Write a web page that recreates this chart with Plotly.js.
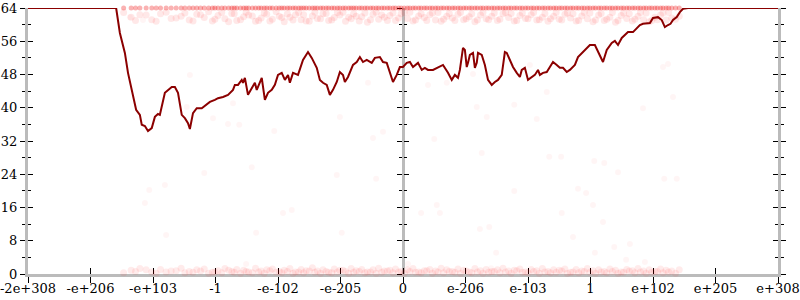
<!DOCTYPE html>
<html><head><meta charset="utf-8">
<script src="https://cdn.plot.ly/plotly-3.0.1.min.js"></script>
<style>html,body{margin:0;padding:0;background:#fff}#chart{width:800px;height:300px}</style>
</head><body><div id="chart"></div>
<script>
const tickVals = [-6,-5,-4,-3,-2,-1,0,1,2,3,4,5,6];
const tickText = ['-2e+308','-e+206','-e+103','-1','-e-102','-e-205','0','e-206','e-103','1','e+102','e+205','e+308'];
const yTicks = [0,8,16,24,32,40,48,56,64];
const yMinor = [4,12,20,28,36,44,52,60];

const lineX = [-6,-4.59,-4.53,-4.45,-4.40,-4.34,-4.30,-4.27,-4.21,-4.18,-4.13,-4.08,-4.02,-3.97,-3.92,-3.89,-3.81,-3.76,-3.70,-3.65,-3.60,-3.54,-3.49,-3.44,-3.41,-3.36,-3.30,-3.22,-3.14,-3.09,-3.01,-2.96,-2.88,-2.80,-2.72,-2.69,-2.64,-2.58,-2.56,-2.53,-2.48,-2.42,-2.37,-2.34,-2.29,-2.26,-2.21,-2.16,-2.10,-2.05,-2.00,-1.94,-1.89,-1.84,-1.81,-1.76,-1.68,-1.60,-1.52,-1.46,-1.38,-1.33,-1.28,-1.22,-1.17,-1.12,-1.06,-1.01,-0.96,-0.93,-0.88,-0.80,-0.74,-0.69,-0.64,-0.58,-0.50,-0.45,-0.37,-0.32,-0.26,-0.21,-0.16,-0.10,-0.05,0,0.06,0.11,0.16,0.24,0.30,0.35,0.40,0.48,0.56,0.64,0.72,0.78,0.83,0.88,0.91,0.94,0.96,0.99,1.02,1.04,1.07,1.12,1.15,1.18,1.20,1.26,1.31,1.36,1.42,1.47,1.52,1.58,1.63,1.66,1.71,1.76,1.82,1.87,1.90,1.95,2.00,2.06,2.11,2.16,2.19,2.24,2.30,2.35,2.40,2.46,2.51,2.56,2.62,2.67,2.75,2.80,2.86,2.94,2.99,3.07,3.12,3.18,3.20,3.26,3.34,3.39,3.44,3.50,3.55,3.60,3.68,3.74,3.79,3.84,3.90,3.95,4.00,4.08,4.14,4.19,4.24,4.28,4.32,4.38,4.43,4.48,4.56,6];
const lineY = [64,64,58.0,53.2,48.4,44.3,41.9,39.5,38.3,35.9,35.6,34.4,35.1,37.8,38.5,38.3,43.6,44.3,45.0,45.0,43.6,38.3,37.5,36.3,34.9,38.7,39.9,39.9,40.7,41.4,41.9,42.3,42.6,43.1,44.3,45.5,45.5,46.7,46.0,47.2,43.1,44.8,46.0,44.3,46.0,47.2,41.9,43.6,44.3,45.5,47.9,48.4,46.7,47.9,46.0,48.4,47.9,51.5,53.4,52.0,49.6,46.7,46.0,45.5,43.1,44.3,46.2,48.6,47.9,46.2,47.4,50.3,51.0,52.2,51.0,51.5,50.8,52.0,52.2,51.0,50.8,48.6,46.2,47.9,49.8,49.8,50.8,51.0,49.8,50.8,49.1,49.6,49.1,49.1,49.8,50.3,48.4,46.7,47.9,47.2,49.1,52.2,54.4,53.9,49.8,50.8,52.7,53.2,49.6,50.8,53.2,52.7,50.3,46.7,45.5,46.2,46.7,47.9,53.4,53.2,51.5,49.8,48.4,47.4,49.1,49.6,46.7,47.4,47.9,49.1,47.9,48.4,48.6,49.8,51.0,50.3,49.6,49.6,48.6,49.1,50.3,52.2,53.2,54.4,55.1,55.1,53.4,51.5,51.0,53.9,55.6,56.1,55.1,56.8,57.5,58.2,58.2,59.2,59.9,60.2,60.4,60.4,61.6,61.8,61.1,59.4,59.9,60.2,61.1,61.8,63.0,63.8,64,64];

const bandX = [-4.35,-4.21,-4.02,-3.88,-3.71,-3.55,-3.42,-3.30,-3.18,-3.05,-2.96,-2.85,-2.74,-2.66,-2.55,-2.47,-2.36,-2.27,-2.18,-2.09,-1.98,-1.90,-1.81,-1.72,-1.63,-1.55,-1.45,-1.37,-1.28,-1.19,-1.10,-1.01,-0.92,-0.83,-0.75,-0.66,-0.57,-0.48,-0.39,-0.30,-0.21,-0.12,-0.03,0.07,0.16,0.25,0.34,0.43,0.52,0.61,0.70,0.79,0.88,0.97,1.06,1.15,1.24,1.33,1.42,1.51,1.60,1.69,1.78,1.87,1.96,2.05,2.14,2.23,2.32,2.41,2.50,2.59,2.68,2.77,2.86,2.95,3.04,3.13,3.22,3.31,3.40,3.49,3.58,3.67,3.76,3.85,3.94,4.03,4.12,4.21,4.30,4.42];
const bandX2 = [-4.47,-4.28,-4.11,-3.95,-3.79,-3.63,-3.49,-3.36,-3.24,-3.11,-3.01,-2.90,-2.79,-2.70,-2.60,-2.51,-2.41,-2.31,-2.22,-2.13,-2.03,-1.94,-1.85,-1.76,-1.67,-1.59,-1.50,-1.41,-1.32,-1.23,-1.14,-1.05,-0.96,-0.87,-0.79,-0.70,-0.61,-0.52,-0.43,-0.34,-0.25,-0.16,-0.07,0.02,0.11,0.20,0.29,0.38,0.47,0.56,0.65,0.74,0.83,0.92,1.01,1.10,1.19,1.28,1.37,1.46,1.55,1.64,1.73,1.82,1.91,2.00,2.09,2.18,2.27,2.36,2.45,2.54,2.63,2.72,2.81,2.90,2.99,3.08,3.17,3.26,3.35,3.44,3.53,3.62,3.71,3.80,3.89,3.98,4.07,4.16,4.25,4.36];
const topRowY = [64,64,64,64,64,64,64,64,64,64,64,64,64,64,64,64,64,64,64,64,64,64,64,64,64,64,64,64,64,64,64,64,64,64,64,64,64,64,64,64,64,64,64,64,64,64,64,64,64,64,64,64,64,64,64,64,64,64,64,64,64,64,64,64,64,64,64,64,64,64,64,64,64,64,64,64,64,64,64,64,64,64,64,64,64,64,64,64,64,64,64,64];
const midBandY = [61.8,62.4,61.2,62.6,61.5,62.0,61.1,62.5,61.7,60.9,62.2,61.4,62.7,61.0,61.9,62.3,60.8,61.6,62.5,61.3,62.0,60.7,61.8,62.4,61.2,60.9,62.1,61.5,62.6,61.0,61.7,62.3,60.8,61.4,62.0,61.9,60.6,62.5,61.3,61.8,62.2,61.0,62.6,61.5,60.9,62.1,61.7,62.4,61.1,60.8,62.0,61.6,62.5,61.2,61.9,60.7,62.3,61.4,62.0,61.0,62.6,61.7,60.9,62.2,61.5,62.4,61.1,61.8,60.8,62.0,61.3,62.5,61.6,60.9,62.1,61.4,60.7,62.3,61.0,61.8,60.6,62.2,61.5,60.9,62.0,61.2,60.7,61.8,62.3,61.1,61.6,62.0];
const midBandY2 = [62.9,61.0,62.3,60.8,63.0,61.6,62.8,60.9,62.4,63.1,61.3,62.9,60.7,62.6,61.2,63.0,62.1,61.0,62.8,60.9,63.1,61.7,62.6,61.1,62.9,62.4,60.8,63.0,61.4,62.7,61.1,62.9,63.0,61.8,62.6,60.9,62.8,61.2,63.0,62.3,61.0,62.8,61.6,62.9,63.0,61.1,62.6,61.0,62.8,62.9,61.3,62.7,61.0,62.9,61.4,62.6,61.1,62.9,61.2,62.8,61.3,62.9,62.7,61.0,62.8,61.4,62.9,61.2,62.7,61.4,62.9,61.1,62.8,62.6,61.0,62.9,62.8,61.1,62.7,61.3,62.9,61.0,62.8,62.6,61.3,62.9,62.8,61.0,61.2,62.8,62.9,61.3];
const botBandY = [0.9,1.3,0.5,1.1,0.7,1.4,0.6,1.0,1.2,0.4,0.8,1.3,0.6,1.1,0.9,0.5,1.4,0.7,1.0,1.2,0.6,0.9,1.3,0.5,1.1,0.8,1.5,0.7,1.0,0.4,1.2,0.9,0.6,1.3,0.8,1.1,0.5,1.0,1.4,0.7,0.9,1.2,0.6,1.0,1.3,0.5,0.8,1.1,0.7,1.4,1.0,0.6,1.2,0.9,0.5,1.3,0.8,1.1,0.6,1.0,1.4,0.7,0.9,1.2,0.5,1.1,0.8,1.3,0.6,1.0,0.9,1.2,0.4,1.1,0.7,1.3,0.8,1.0,0.6,1.2,0.9,0.5,1.1,0.8,1.3,0.7,1.0,0.6,1.2,0.9,0.7,1.0];
const botBandY2 = [0.3,0.6,1.0,0.2,0.5,0.8,0.3,0.4,0.7,0.2,0.5,0.3,0.9,0.4,0.2,0.6,0.3,0.5,0.2,0.8,0.4,0.3,0.6,0.2,0.5,0.3,0.7,0.4,0.2,0.6,0.3,0.5,0.9,0.2,0.4,0.6,0.3,0.5,0.2,0.4,0.7,0.3,0.5,0.2,0.6,0.4,0.3,0.8,0.2,0.5,0.3,0.6,0.4,0.2,0.7,0.3,0.5,0.2,0.4,0.6,0.3,0.5,0.2,0.8,0.4,0.3,0.6,0.2,0.5,0.3,0.4,0.7,0.2,0.5,0.3,0.6,0.4,0.2,0.5,0.3,0.6,0.2,0.4,0.7,0.3,0.5,0.2,0.4,0.6,0.3,0.5,0.2];

const sparseX = [-4.37,-4.16,-3.41,-3.46,-2.72,-3.04,-2.80,-2.62,-2.06,-1.01,-0.48,-0.32,-0.56,1.12,0.40,0.70,1.18,1.34,1.78,2.14,2.30,0.50,2.03,4.16,4.24,4.32,3.84,-4.13,-4.06,-3.81,-3.79,-3.18,-2.42,-1.92,-1.78,-2.35,-1.06,-0.43,-0.98,-2.51,1.26,2.34,2.53,3.06,1.78,2.80,2.93,0.54,0.29,0.59,2.54,3.04,1.23,1.38,2.72,1.49,3.07,0.08,1.41,3.22,3.44,4.18,4.38,3.20,3.63,3.38,3.57,3.87];
const sparseY = [61.8,61.1,47.9,40.2,41.1,37.5,36.1,35.9,34.4,37.8,32.7,34.2,46.0,48.1,45.5,46.0,40.2,37.8,40.7,37.3,43.8,32.5,50.3,49.8,50.5,42.6,39.9,17.1,20.2,21.4,9.4,24.3,25.7,14.7,15.4,9.9,23.8,22.9,9.9,2.4,29.1,28.2,28.2,27.2,20.0,20.5,19.5,16.6,14.7,14.7,14.7,16.6,10.8,11.3,8.9,5.1,5.1,2.4,1.4,26.7,24.5,22.9,22.9,12.5,7.2,6.5,3.4,2.9];

const FONT = 'DejaVu Serif, serif';
const AX = '#bbbbbb';

const dot = (x, y, color, size) => ({
  type: 'scatter', mode: 'markers', x: x, y: y, cliponaxis: false,
  marker: {color: color, size: size, line: {width: 0}}, hoverinfo: 'skip', showlegend: false
});

const traces = [
  dot(bandX, midBandY, 'rgba(255,0,0,0.09)', 7),
  dot(bandX2, midBandY2, 'rgba(255,0,0,0.09)', 7),
  dot(bandX, botBandY, 'rgba(255,0,0,0.08)', 7),
  dot(bandX2, botBandY2, 'rgba(255,0,0,0.08)', 7),
  dot(bandX, topRowY, 'rgba(240,0,0,0.3)', 5),
  dot(bandX2, topRowY, 'rgba(240,0,0,0.3)', 5),
  dot(sparseX, sparseY, 'rgba(255,0,0,0.04)', 6),
  {type: 'scatter', mode: 'lines', x: lineX, y: lineY, cliponaxis: false,
   line: {color: '#8b0000', width: 2}, hoverinfo: 'skip', showlegend: false},
  {type: 'scatter', x: [], y: [], xaxis: 'x2', yaxis: 'y', showlegend: false},
  {type: 'scatter', x: [], y: [], yaxis: 'y2', showlegend: false},
  {type: 'scatter', x: [], y: [], yaxis: 'y3', showlegend: false},
  {type: 'scatter', x: [], y: [], yaxis: 'y4', showlegend: false},
  {type: 'scatter', x: [], y: [], yaxis: 'y5', showlegend: false},
  {type: 'scatter', x: [], y: [], yaxis: 'y6', showlegend: false}
];

const yBase = (extra) => Object.assign({
  range: [0, 64], tickvals: yTicks, ticklen: 5, tickcolor: '#000', tickwidth: 1,
  showgrid: false, zeroline: false, fixedrange: true, layer: 'below traces',
  showticklabels: false
}, extra);

const layout = {
  width: 800, height: 300,
  margin: {l: 28, r: 22, t: 8, b: 26, pad: 0},
  paper_bgcolor: '#fff', plot_bgcolor: '#fff',
  showlegend: false,
  font: {family: FONT, size: 13, color: '#000'},
  xaxis: {
    range: [-6, 6], tickvals: tickVals, ticktext: tickText, ticks: 'outside', ticklen: 6,
    tickcolor: '#000', tickwidth: 1, showline: true, linecolor: AX, linewidth: 3,
    showgrid: false, zeroline: false, fixedrange: true, layer: 'below traces',
    ticklabeloverflow: 'allow', ticklabelstandoff: -6,
    tickfont: {family: FONT, size: 13, color: '#000'}
  },
  xaxis2: {
    overlaying: 'x', anchor: 'y', range: [-6, 6], tickvals: tickVals, ticks: 'inside', ticklen: 6,
    tickcolor: '#000', tickwidth: 1, showline: false, showticklabels: false,
    showgrid: false, zeroline: false, fixedrange: true, layer: 'below traces'
  },
  yaxis: yBase({
    ticks: 'outside', showline: true, linecolor: AX, linewidth: 3, showticklabels: true,
    ticklabeloverflow: 'allow',
    tickfont: {family: FONT, size: 13, color: '#000'},
    minor: {tickvals: yMinor, ticks: 'outside', ticklen: 3, tickcolor: '#000', tickwidth: 1}
  }),
  yaxis2: yBase({
    overlaying: 'y', anchor: 'x', side: 'left', ticks: 'inside', showline: false,
    minor: {tickvals: yMinor, ticks: 'inside', ticklen: 3, tickcolor: '#000', tickwidth: 1}
  }),
  yaxis3: yBase({
    overlaying: 'y', anchor: 'free', position: 0.5, side: 'left', ticks: 'outside',
    showline: true, linecolor: AX, linewidth: 3,
    minor: {tickvals: yMinor, ticks: 'outside', ticklen: 3, tickcolor: '#000', tickwidth: 1}
  }),
  yaxis4: yBase({
    overlaying: 'y', anchor: 'free', position: 0.5, side: 'left', ticks: 'inside', showline: false,
    minor: {tickvals: yMinor, ticks: 'inside', ticklen: 3, tickcolor: '#000', tickwidth: 1}
  }),
  yaxis5: yBase({
    overlaying: 'y', anchor: 'x', side: 'right', ticks: 'outside',
    showline: true, linecolor: AX, linewidth: 3,
    minor: {tickvals: yMinor, ticks: 'outside', ticklen: 3, tickcolor: '#000', tickwidth: 1}
  }),
  yaxis6: yBase({
    overlaying: 'y', anchor: 'x', side: 'right', ticks: 'inside', showline: false,
    minor: {tickvals: yMinor, ticks: 'inside', ticklen: 3, tickcolor: '#000', tickwidth: 1}
  })
};

Plotly.newPlot('chart', traces, layout, {staticPlot: true, displayModeBar: false});
</script>
</body></html>
